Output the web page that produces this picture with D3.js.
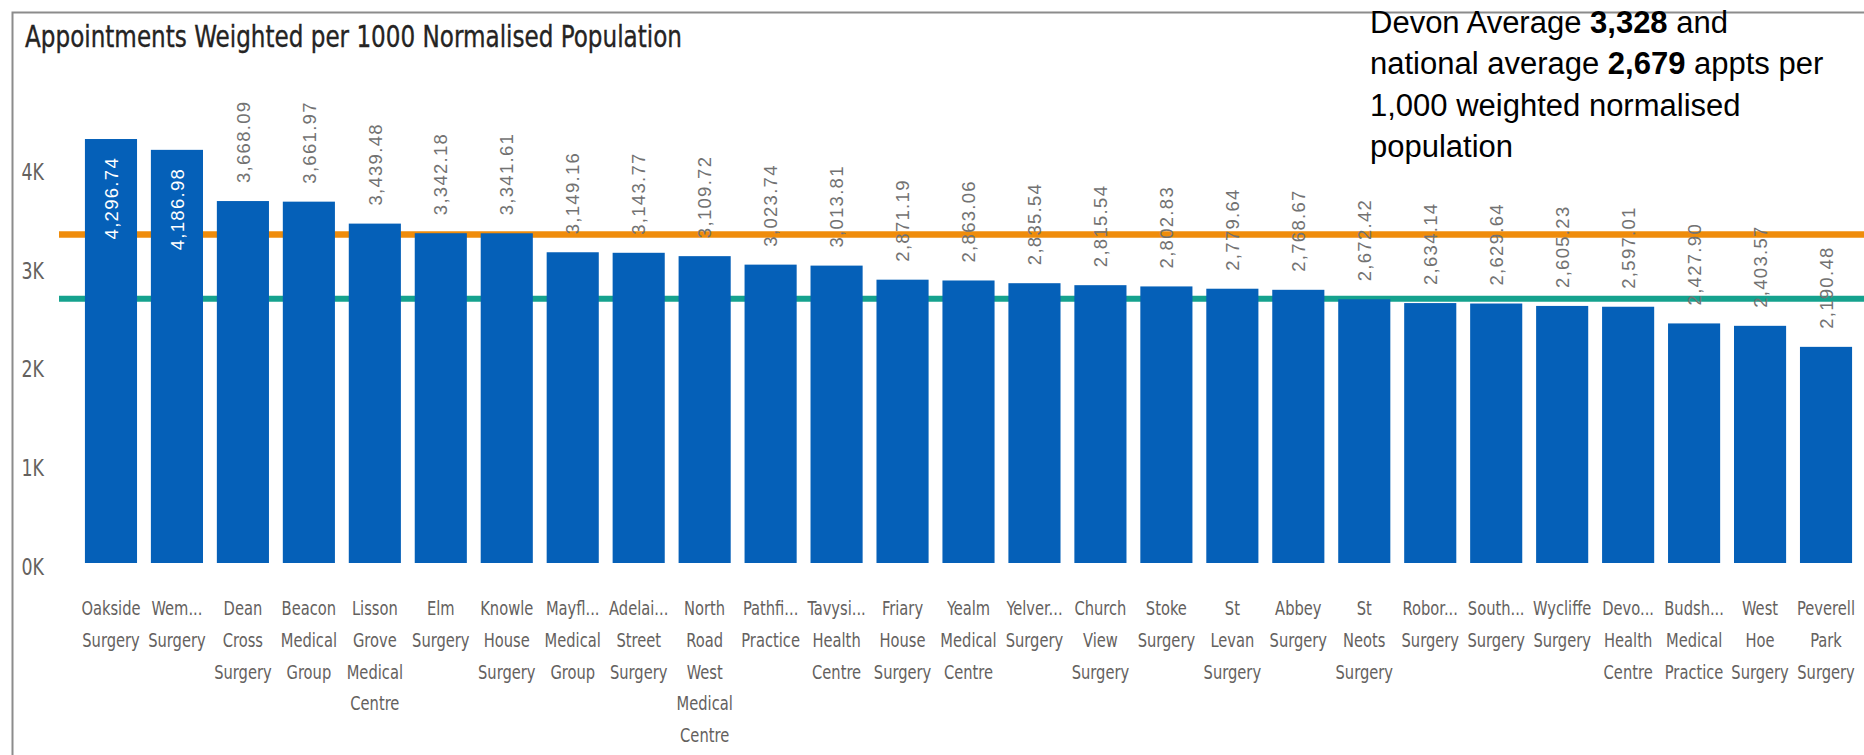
<!DOCTYPE html>
<html>
<head>
<meta charset="utf-8">
<script src="https://cdn.jsdelivr.net/npm/d3@7"></script>
<style>
  html, body { margin: 0; padding: 0; background: #ffffff; }
  svg { display: block; }
</style>
</head>
<body>
<svg id="chart" width="1864" height="755"></svg>
<script>
// ---------------- DATA ----------------
const titleText = "Appointments Weighted per 1000 Normalised Population";

const categories = [
  "Oakside Surgery", "Wem... Surgery", "Dean Cross Surgery", "Beacon Medical Group",
  "Lisson Grove Medical Centre", "Elm Surgery", "Knowle House Surgery", "Mayfl... Medical Group",
  "Adelai... Street Surgery", "North Road West Medical Centre", "Pathfi... Practice",
  "Tavysi... Health Centre", "Friary House Surgery", "Yealm Medical Centre", "Yelver... Surgery",
  "Church View Surgery", "Stoke Surgery", "St Levan Surgery", "Abbey Surgery", "St Neots Surgery",
  "Robor... Surgery", "South... Surgery", "Wycliffe Surgery", "Devo... Health Centre",
  "Budsh... Medical Practice", "West Hoe Surgery", "Peverell Park Surgery"
];

const values = [
  4296.74, 4186.98, 3668.09, 3661.97, 3439.48, 3342.18, 3341.61, 3149.16, 3143.77,
  3109.72, 3023.74, 3013.81, 2871.19, 2863.06, 2835.54, 2815.54, 2802.83, 2779.64,
  2768.67, 2672.42, 2634.14, 2629.64, 2605.23, 2597.01, 2427.90, 2403.57, 2190.48
];

const yTickValues = [0, 1000, 2000, 3000, 4000];
const yTickLabels = ["0K", "1K", "2K", "3K", "4K"];

const devonAverage = 3328;
const nationalAverage = 2679;

// annotation: each line is a list of [text, bold?] runs
const noteLines = [
  [["Devon Average ", false], ["3,328", true], [" and", false]],
  [["national average ", false], ["2,679", true], [" appts per", false]],
  [["1,000 weighted normalised", false]],
  [["population", false]]
];

// ---------------- STYLE ----------------
const dinFont = "'DejaVu Sans Condensed', 'DejaVu Sans', sans-serif";
const sansFont = "'Liberation Sans', Arial, sans-serif";
const barColor = "#0560B8";
const devonColor = "#EF8C0B";
const nationalColor = "#15A28E";
const axisTextColor = "#64615E";
const valueTextColor = "#727272";
const narrow = 0.86;

const svg = d3.select("#chart");

// frame
svg.append("path")
  .attr("d", "M12.5,755 V12.5 H1864")
  .attr("fill", "none")
  .attr("stroke", "#8c8c8c")
  .attr("stroke-width", 2);

// title
svg.append("text")
  .attr("x", 25)
  .attr("y", 47)
  .attr("font-family", dinFont)
  .attr("font-size", 31)
  .attr("fill", "#252423")
  .attr("stroke", "#252423")
  .attr("stroke-width", 0.35)
  .attr("textLength", 657)
  .attr("lengthAdjust", "spacingAndGlyphs")
  .text(titleText);

// annotation
const note = svg.append("text")
  .attr("font-family", sansFont)
  .attr("font-size", 31)
  .attr("fill", "#000000")
  .attr("xml:space", "preserve");
const noteBaselines = [33, 74.3, 115.6, 157];
noteLines.forEach((runs, i) => {
  runs.forEach((r, j) => {
    const ts = note.append("tspan")
      .attr("font-weight", r[1] ? "bold" : "normal")
      .text(r[0]);
    if (j === 0) ts.attr("x", 1370).attr("y", noteBaselines[i]);
  });
});

// scales
const x = d3.scaleBand()
  .domain(categories)
  .range([78, 1859])
  .paddingInner(0.21)
  .paddingOuter(0.105);

const y = d3.scaleLinear()
  .domain([0, 4000])
  .range([563, 168.3]);

// y axis labels
const yAxis = d3.axisLeft(y)
  .tickValues(yTickValues)
  .tickFormat((d, i) => yTickLabels[i])
  .tickSize(0)
  .tickPadding(0);

const yg = svg.append("g")
  .attr("transform", `translate(44,0) scale(${narrow},1)`)
  .call(yAxis);
yg.select(".domain").remove();
yg.selectAll("text")
  .attr("font-family", dinFont)
  .attr("font-size", 22.5)
  .attr("fill", axisTextColor)
  .attr("dy", "0.5em");

// reference lines (behind bars)
svg.append("line")
  .attr("x1", 59).attr("x2", 1864)
  .attr("y1", y(devonAverage)).attr("y2", y(devonAverage))
  .attr("stroke", devonColor)
  .attr("stroke-width", 6.5);

svg.append("line")
  .attr("x1", 59).attr("x2", 1864)
  .attr("y1", y(nationalAverage)).attr("y2", y(nationalAverage))
  .attr("stroke", nationalColor)
  .attr("stroke-width", 6);

// bars
svg.append("g")
  .selectAll("rect")
  .data(values)
  .join("rect")
  .attr("x", (d, i) => x(categories[i]))
  .attr("width", x.bandwidth())
  .attr("y", d => y(d))
  .attr("height", d => y(0) - y(d))
  .attr("fill", barColor);

// value labels
const fmt = d3.format(",.2f");
const plotTop = 80;
const labels = svg.append("g")
  .selectAll("text")
  .data(values)
  .join("text")
  .attr("font-family", sansFont)
  .attr("font-size", 18.5)
  .attr("letter-spacing", "1.3px")
  .attr("dy", "0.36em")
  .text(d => fmt(d));

labels.each(function(d, i) {
  const t = d3.select(this);
  const len = this.getComputedTextLength();
  const cx = x(categories[i]) + x.bandwidth() / 2;
  const top = y(d);
  const gap = 18;
  if (top - gap - len < plotTop) {
    t.attr("text-anchor", "end")
      .attr("fill", "#ffffff")
      .attr("transform", `translate(${cx},${top + gap}) rotate(-90)`);
  } else {
    t.attr("text-anchor", "start")
      .attr("fill", valueTextColor)
      .attr("transform", `translate(${cx},${top - gap}) rotate(-90)`);
  }
});

// category labels (each word on its own line)
const xg = svg.append("g");
categories.forEach(c => {
  const cx = x(c) + x.bandwidth() / 2;
  const t = xg.append("text")
    .attr("transform", `translate(${cx},0) scale(${narrow},1)`)
    .attr("text-anchor", "middle")
    .attr("font-family", dinFont)
    .attr("font-size", 19)
    .attr("fill", axisTextColor);
  c.split(" ").forEach((w, k) => {
    t.append("tspan")
      .attr("x", 0)
      .attr("y", 615 + k * 31.8)
      .text(w);
  });
});
</script>
</body>
</html>
